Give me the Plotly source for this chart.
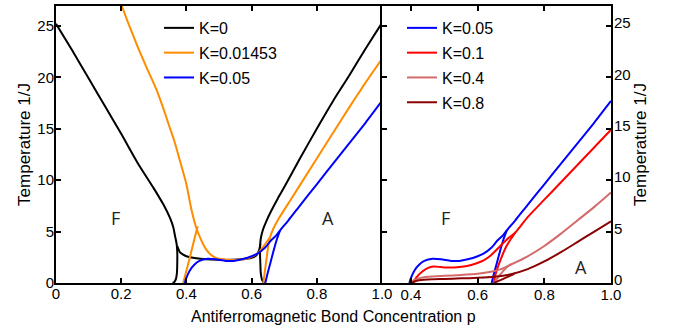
import plotly.graph_objects as go

# ---------------- data (p, T) ; None separates branches ----------------
p_k0 = [0.0, 0.05, 0.10, 0.15, 0.20, 0.25, 0.30, 0.33, 0.35, 0.36, 0.365, 0.37, 0.372, 0.372, 0.371, 0.368, 0.363, 0.358,
        None,
        0.372, 0.38, 0.39, 0.40, 0.43, 0.46, 0.50, 0.54, 0.57, 0.60, 0.615, 0.623, 0.627,
        None,
        0.638, 0.632, 0.628, 0.627, 0.626, 0.626, 0.628, 0.635, 0.645, 0.66, 0.68, 0.70, 0.75, 0.80, 0.85, 0.90, 0.95, 1.0]
T_k0 = [25.2, 22.6, 19.9, 17.2, 14.5, 11.7, 9.2, 7.6, 6.3, 5.4, 4.6, 3.8, 3.0, 2.0, 1.0, 0.4, 0.1, 0.0,
        None,
        3.6, 3.0, 2.75, 2.6, 2.4, 2.3, 2.25, 2.25, 2.3, 2.45, 2.7, 3.2, 3.8,
        None,
        0.0, 0.3, 1.0, 1.8, 2.6, 3.5, 4.3, 5.2, 6.0, 7.0, 8.2, 9.3, 12.2, 15.0, 17.7, 20.2, 22.8, 25.3]

p_k1 = [0.201, 0.22, 0.25, 0.28, 0.307, 0.33, 0.35, 0.363, 0.38, 0.40, 0.415, 0.43, 0.445, 0.46, 0.475, 0.49, 0.50,
        0.53, 0.56, 0.59, 0.61, 0.625, 0.64, 0.655,
        None,
        0.39, 0.40, 0.41, 0.42, 0.432, 0.435,
        None,
        0.636, 0.641, 0.646, 0.651, 0.657, 0.667, 0.682, 0.72, 0.76, 0.80, 0.85, 0.90, 0.95, 1.0]
T_k1 = [27.0, 25.4, 23.0, 20.8, 18.9, 16.9, 15.0, 13.8, 11.9, 9.6, 7.2, 5.4, 4.2, 3.3, 2.75, 2.45, 2.35,
        2.25, 2.25, 2.4, 2.7, 3.1, 3.7, 4.4,
        None,
        0.0, 1.2, 2.4, 3.7, 5.2, 5.5,
        None,
        0.0, 1.2, 2.4, 3.6, 4.5, 5.3, 6.2, 8.1, 10.1, 12.1, 14.6, 17.1, 19.5, 21.8]

p_k2 = [0.395, 0.40, 0.41, 0.425, 0.44, 0.465, 0.49, 0.52, 0.545, 0.57, 0.60, 0.62, 0.64, 0.66, 0.675, 0.687,
        0.713, 0.75, 0.80, 0.85, 0.90, 0.95, 1.0,
        None,
        0.642, 0.648, 0.658, 0.668, 0.678, 0.687]
T_k2 = [0.0, 0.5, 1.2, 1.8, 2.15, 2.35, 2.3, 2.15, 2.15, 2.3, 2.6, 2.9, 3.4, 4.15, 4.6, 5.1,
        6.1, 7.6, 9.6, 11.6, 13.6, 15.6, 17.7,
        None,
        0.0, 0.8, 2.0, 3.2, 4.3, 5.1]

p_k3 = [0.407, 0.415, 0.433, 0.45, 0.468, 0.49, 0.518, 0.545, 0.568, 0.595, 0.618, 0.64, 0.668, 0.69, 0.714,
        0.75, 0.80, 0.85, 0.90, 0.95, 1.0,
        None,
        0.648, 0.655, 0.668, 0.685, 0.70, 0.714]
T_k3 = [0.0, 0.5, 1.1, 1.45, 1.6, 1.55, 1.5, 1.55, 1.65, 1.9, 2.2, 2.7, 3.6, 4.3, 4.95,
        6.4, 8.1, 9.8, 11.5, 13.2, 14.9,
        None,
        0.0, 1.0, 2.2, 3.5, 4.3, 4.95]

p_k4 = [0.40, 0.41, 0.43, 0.45, 0.50, 0.55, 0.60, 0.64, 0.67, 0.70, 0.75, 0.80, 0.85, 0.90, 0.95, 1.0,
        None,
        0.648, 0.66, 0.675, 0.69, 0.70]
T_k4 = [0.0, 0.3, 0.5, 0.6, 0.7, 0.78, 0.9, 1.1, 1.35, 1.8, 2.6, 3.6, 4.8, 6.1, 7.4, 8.8,
        None,
        0.0, 0.5, 1.1, 1.6, 1.8]

p_k5 = [0.40, 0.42, 0.45, 0.50, 0.55, 0.60, 0.65, 0.70, 0.75, 0.80, 0.85, 0.90, 0.95, 1.0,
        None,
        0.648, 0.67, 0.69, 0.71]
T_k5 = [0.0, 0.25, 0.35, 0.4, 0.45, 0.5, 0.6, 0.85, 1.35, 2.1, 3.0, 4.0, 5.0, 6.0,
        None,
        0.0, 0.3, 0.6, 0.9]

names_left = ["K=0", "K=0.01453", "K=0.05"]
names_right = ["K=0.05", "K=0.1", "K=0.4", "K=0.8"]
colors_left = ["#000000", "#FF8C00", "#0000FF"]
colors_right = ["#0000FF", "#FF0000", "#D46A6A", "#8B0000"]

xticks_left = [0, 0.2, 0.4, 0.6, 0.8, 1.0]
xticks_left_text = ["0", "0.2", "0.4", "0.6", "0.8", "1.0"]
xticks_right = [0.4, 0.6, 0.8, 1.0]
xticks_right_text = ["0.4", "0.6", "0.8", "1.0"]
yticks = [0, 5, 10, 15, 20, 25]

FONT = "Liberation Sans, Arial, sans-serif"

fig = go.Figure()
left_data = [(p_k0, T_k0), (p_k1, T_k1), (p_k2, T_k2)]
for i, (px, ty) in enumerate(left_data):
    fig.add_trace(go.Scatter(x=px, y=ty, mode="lines", name=names_left[i],
                             line=dict(color=colors_left[i], width=2, shape="spline", smoothing=0.6),
                             xaxis="x", yaxis="y", legend="legend",
                             legendgroup="L%d" % i, connectgaps=False))
right_data = [(p_k2, T_k2), (p_k3, T_k3), (p_k4, T_k4), (p_k5, T_k5)]
for i, (px, ty) in enumerate(right_data):
    fig.add_trace(go.Scatter(x=px, y=ty, mode="lines", name=names_right[i],
                             line=dict(color=colors_right[i], width=2, shape="spline", smoothing=0.6),
                             xaxis="x2", yaxis="y2", legend="legend2",
                             legendgroup="R%d" % i, connectgaps=False))

split = 326 / 555
axis_common = dict(showline=True, linecolor="black", linewidth=2,
                   ticks="inside", ticklen=5, tickwidth=2, tickcolor="black",
                   showgrid=False, zeroline=False,
                   tickfont=dict(family=FONT, size=15, color="black"))

fig.update_layout(
    width=673, height=331,
    margin=dict(l=56, r=62, t=4, b=48),
    paper_bgcolor="white", plot_bgcolor="white",
    font=dict(family=FONT, color="black"),
    xaxis=dict(domain=[0, split], range=[0, 1], tickvals=xticks_left, ticktext=xticks_left_text,
               anchor="y", mirror="ticks", ticklabelstandoff=-4, **axis_common),
    yaxis=dict(domain=[0, 1], range=[0, 26.93], tickvals=yticks, anchor="x", mirror=False,
               ticklabelstandoff=-3,
               title=dict(text="Temperature 1/J", font=dict(family=FONT, size=17), standoff=2),
               **axis_common),
    xaxis2=dict(domain=[split, 1], range=[0.313, 1.0], tickvals=xticks_right, ticktext=xticks_right_text,
                anchor="y2", mirror="ticks", ticklabelstandoff=-3, **axis_common),
    yaxis2=dict(domain=[0, 1], range=[0, 26.93], tickvals=yticks, anchor="x2", side="right",
                mirror="ticks", ticklabelstandoff=-2, ticklabelshift=-3,
                title=dict(text="Temperature 1/J", font=dict(family=FONT, size=17), standoff=0),
                **axis_common),
    legend=dict(x=(159 - 56) / 555, y=1 - 5 / 279, xanchor="left", yanchor="top",
                bgcolor="rgba(0,0,0,0)", font=dict(family=FONT, size=16),
                traceorder="grouped", tracegroupgap=1, itemwidth=30),
    legend2=dict(x=(402 - 56) / 555, y=1 - 5 / 279, xanchor="left", yanchor="top",
                 bgcolor="rgba(0,0,0,0)", font=dict(family=FONT, size=16),
                 traceorder="grouped", tracegroupgap=1, itemwidth=30),
    annotations=[
        dict(text="Antiferromagnetic Bond Concentration p", xref="paper", yref="paper",
             x=(333 - 56) / 555, y=-34 / 279, showarrow=False, yanchor="middle",
             font=dict(family=FONT, size=16)),
        dict(text="F", xref="x", yref="y", x=0.181, y=6.3, showarrow=False,
             font=dict(family="Open Sans", size=18, color="#222")),
        dict(text="A", xref="x", yref="y", x=0.833, y=6.3, showarrow=False,
             font=dict(family="Open Sans", size=18, color="#222")),
        dict(text="F", xref="x2", yref="y2", x=0.503, y=6.3, showarrow=False,
             font=dict(family="Open Sans", size=18, color="#222")),
        dict(text="A", xref="x2", yref="y2", x=0.909, y=1.6, showarrow=False,
             font=dict(family="Open Sans", size=18, color="#222")),
    ],
)

fig.write_html("out.html")
